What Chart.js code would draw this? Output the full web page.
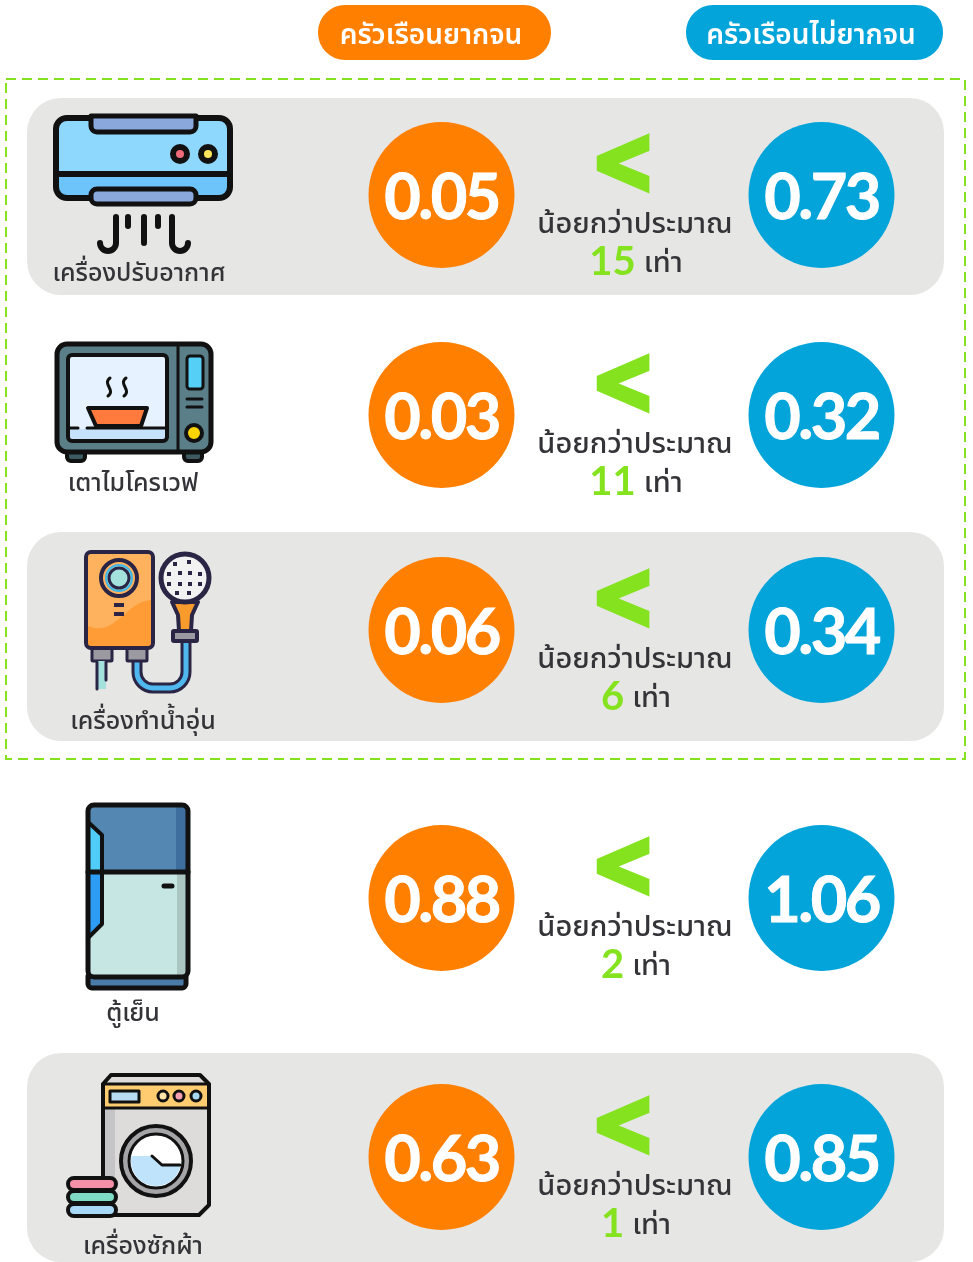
<!DOCTYPE html>
<html lang="th">
<head>
<meta charset="utf-8">
<title>เครื่องใช้ไฟฟ้า</title>
<script src="https://cdn.jsdelivr.net/npm/chart.js@4"></script>
<style>
  html, body { margin: 0; padding: 0; background: #fff; }
  canvas { display: block; }
</style>
</head>
<body>
<canvas id="chart" width="973" height="1262"></canvas>
<script>
// ข้อมูล
const categories = ['เครื่องปรับอากาศ', 'เตาไมโครเวฟ', 'เครื่องทำน้ำอุ่น', 'ตู้เย็น', 'เครื่องซักผ้า'];
const poorValues = [0.05, 0.03, 0.06, 0.88, 0.63];
const nonPoorValues = [0.73, 0.32, 0.34, 1.06, 0.85];
const timesLess = ['15', '11', '6', '2', '1'];
const seriesNames = ['ครัวเรือนยากจน', 'ครัวเรือนไม่ยากจน'];

// layout (px on the page)
const rowY = [195, 415, 630, 898, 1157];
const labelX = [139, 133, 143, 133, 143];
const labelY = [276, 486, 724, 1016, 1249];
const poorX = 441.5;
const nonPoorX = 821.5;

const ORANGE = '#ff7f00';
const BLUE = '#03a4da';
const GREEN = '#84e31e';
const DARK = '#333338';
const PANEL = '#e6e6e4';
const FONT = '"Noto Sans Thai", "Noto Sans", Lato, sans-serif';

function box(c, x, y, w, h, r, fill, stroke, lw) {
  c.beginPath();
  c.roundRect(x, y, w, h, r);
  if (fill) { c.fillStyle = fill; c.fill(); }
  if (stroke) { c.strokeStyle = stroke; c.lineWidth = lw; c.stroke(); }
}

function poly(c, pts, fill, stroke, lw) {
  c.beginPath();
  pts.forEach((p, i) => i ? c.lineTo(p[0], p[1]) : c.moveTo(p[0], p[1]));
  c.closePath();
  if (fill) { c.fillStyle = fill; c.fill(); }
  if (stroke) { c.strokeStyle = stroke; c.lineWidth = lw; c.lineJoin = 'round'; c.stroke(); }
}

function dot(c, x, y, r, fill, stroke, lw) {
  c.beginPath();
  c.arc(x, y, r, 0, Math.PI * 2);
  if (fill) { c.fillStyle = fill; c.fill(); }
  if (stroke) { c.strokeStyle = stroke; c.lineWidth = lw; c.stroke(); }
}

function line(c, pts, stroke, lw) {
  c.beginPath();
  pts.forEach((p, i) => i ? c.lineTo(p[0], p[1]) : c.moveTo(p[0], p[1]));
  c.strokeStyle = stroke;
  c.lineWidth = lw;
  c.lineCap = 'round';
  c.lineJoin = 'round';
  c.stroke();
}

// ไอคอน
function drawAir(c) {
  const k = '#111';
  box(c, 56, 118, 174, 80, 11, '#8fd8fd');
  c.save();
  c.beginPath(); c.rect(56, 173, 174, 25); c.clip();
  box(c, 56, 118, 174, 80, 11, '#6cc4fa');
  c.restore();
  box(c, 56, 118, 174, 80, 11, null, k, 6);
  line(c, [[56, 174], [230, 174]], k, 6);
  box(c, 91, 116, 105, 16, [0, 0, 6, 6], '#8aa8dc', k, 5);
  box(c, 91, 189, 105, 15, 6, '#8aa8dc', k, 5);
  dot(c, 180, 154, 10, k); dot(c, 180, 154, 4, '#ef6a7a');
  dot(c, 208, 154, 10, k); dot(c, 208, 154, 4, '#ffe45c');
  c.lineCap = 'round';
  c.strokeStyle = k; c.lineWidth = 6;
  c.beginPath(); c.moveTo(116, 217); c.lineTo(116, 243); c.arc(108, 243, 8, 0, Math.PI); c.stroke();
  c.beginPath(); c.moveTo(172, 217); c.lineTo(172, 243); c.arc(180, 243, 8, Math.PI, 0, true); c.stroke();
  line(c, [[128, 217], [128, 226]], k, 6);
  line(c, [[144, 217], [144, 243]], k, 6);
  line(c, [[158, 217], [158, 226]], k, 6);
}

function drawMicrowave(c) {
  const k = '#111';
  box(c, 67, 450, 18, 11, 4, '#3c5a60', k, 4);
  box(c, 184, 450, 18, 11, 4, '#3c5a60', k, 4);
  box(c, 57, 344, 154, 108, 10, '#5a7f88', k, 5);
  line(c, [[178, 344], [178, 452]], k, 3);
  box(c, 68, 355, 99, 86, 4, '#e6f2ff');
  box(c, 68, 429, 99, 12, 2, '#c5e1fb');
  box(c, 68, 355, 99, 86, 4, null, k, 4);
  line(c, [[70, 428], [78, 428]], k, 3);
  line(c, [[87, 428], [165, 428]], k, 3);
  poly(c, [[88, 408], [147, 408], [141, 426], [96, 426]], '#ff7a3c', k, 4);
  [108, 124].forEach(x => {
    c.beginPath();
    c.moveTo(x + 2, 378);
    c.bezierCurveTo(x - 6, 384, x + 8, 390, x, 396);
    c.strokeStyle = k; c.lineWidth = 3; c.lineCap = 'round'; c.stroke();
  });
  box(c, 187, 356, 16, 33, 3, '#55cff6', k, 3);
  line(c, [[187, 399], [202, 399]], k, 3);
  line(c, [[187, 407], [202, 407]], k, 3);
  dot(c, 194, 433, 8, '#ffd500', k, 4);
}

function drawHeater(c) {
  const k = '#2a2545';
  // สายฝักบัว
  const hose = () => {
    c.beginPath();
    c.moveTo(186, 640); c.lineTo(186, 672);
    c.arc(170, 672, 16, 0, Math.PI / 2);
    c.lineTo(153, 688);
    c.arc(153, 672, 16, Math.PI / 2, Math.PI);
    c.lineTo(137, 655);
    c.stroke();
  };
  c.lineCap = 'butt';
  c.strokeStyle = k; c.lineWidth = 11; hose();
  c.strokeStyle = '#4fb8ee'; c.lineWidth = 5; hose();
  box(c, 92, 648, 20, 13, 1, '#9a9aa0', k, 3);
  box(c, 127, 648, 20, 13, 1, '#9a9aa0', k, 3);
  box(c, 97, 661, 9, 28, 0, '#a4e0dc');
  line(c, [[97, 662], [97, 689]], k, 3);
  line(c, [[106, 662], [106, 680]], k, 3);
  box(c, 86, 552, 67, 96, 5, '#ffb25e');
  c.save();
  c.beginPath(); c.roundRect(86, 552, 67, 96, 5); c.clip();
  c.beginPath(); c.moveTo(86, 625);
  c.bezierCurveTo(115, 640, 125, 600, 153, 600);
  c.lineTo(153, 648); c.lineTo(86, 648); c.closePath();
  c.fillStyle = '#ff9c36'; c.fill();
  c.restore();
  box(c, 86, 552, 67, 96, 5, null, k, 4);
  dot(c, 119, 578, 18, '#ffb25e', k, 4);
  dot(c, 119, 578, 13, '#a4e0dc', '#3fb8e8', 2);
  dot(c, 119, 578, 10, null, k, 3);
  box(c, 114, 603, 10, 4, 0, k);
  box(c, 114, 612, 10, 4, 0, k);
  poly(c, [[172, 602], [198, 602], [192, 615], [191, 631], [179, 631], [178, 615]], '#f99a2c', k, 4);
  box(c, 173, 631, 24, 10, 1, '#9a9aa0', k, 4);
  dot(c, 185, 578, 24, '#f2f2f2', k, 5);
  const dots = [[-10, -14], [4, -16], [-16, -4], [-5, -5], [5, -5], [15, -4], [-16, 6], [-5, 6], [5, 6], [15, 6], [-8, 15], [4, 15]];
  dots.forEach(d => box(c, 185 + d[0] - 2, 578 + d[1] - 2, 4, 4, 0, k));
}

function drawFridge(c) {
  const k = '#111';
  box(c, 88, 976, 98, 12, [0, 0, 4, 4], '#4a7ba8', k, 5);
  box(c, 88, 805, 100, 67, [6, 6, 0, 0], '#5488b2');
  box(c, 176, 805, 12, 67, [0, 6, 0, 0], '#3e6e9e');
  box(c, 88, 872, 100, 105, [0, 0, 6, 6], '#c5e6e3');
  box(c, 177, 872, 11, 105, [0, 0, 6, 0], '#abc5c2');
  poly(c, [[88, 822], [102, 835], [102, 872], [88, 872]], '#4fcdf8');
  poly(c, [[88, 872], [102, 872], [102, 924], [88, 938]], '#2c9cf5');
  line(c, [[88, 822], [102, 835], [102, 924], [88, 938]], k, 4);
  line(c, [[88, 872], [188, 872]], k, 5);
  box(c, 88, 805, 100, 172, 6, null, k, 5);
  line(c, [[164, 886], [172, 886]], k, 5);
}

function drawWasher(c) {
  const k = '#111';
  poly(c, [[111, 1075], [200, 1075], [209, 1084], [209, 1205], [199, 1215], [103, 1215], [103, 1084]], '#dddcdb');
  box(c, 103, 1084, 106, 24, 0, '#ffcc70');
  box(c, 103, 1108, 12, 105, 0, '#c5c5c8');
  poly(c, [[111, 1075], [200, 1075], [209, 1084], [209, 1205], [199, 1215], [103, 1215], [103, 1084]], null, k, 4);
  line(c, [[103, 1084], [209, 1084]], k, 3);
  line(c, [[103, 1108], [209, 1108]], k, 3);
  box(c, 110, 1091, 29, 11, 0, '#b8ddf3', k, 3);
  dot(c, 163, 1096, 5, '#ffe6a8', k, 3);
  dot(c, 179, 1096, 5, '#f59fb0', k, 3);
  dot(c, 196, 1096, 5, '#a6d8f0', k, 3);
  dot(c, 156, 1161, 35, '#a5a5a8', k, 4);
  dot(c, 156, 1161, 27, '#fff', k, 3);
  c.save();
  c.beginPath(); c.arc(156, 1161, 25, 0, Math.PI * 2); c.clip();
  poly(c, [[125, 1156], [152, 1156], [162, 1165], [185, 1165], [185, 1190], [125, 1190]], '#bfe3fa');
  c.restore();
  line(c, [[152, 1156], [162, 1165], [180, 1165]], k, 3);
  box(c, 68, 1178, 48, 12, 6, '#f48fa8', k, 4);
  box(c, 68, 1191, 48, 12, 6, '#7fdcc4', k, 4);
  box(c, 68, 1204, 48, 12, 6, '#a7d8f5', k, 4);
}

const icons = [drawAir, drawMicrowave, drawHeater, drawFridge, drawWasher];

// พื้นหลัง ป้ายหัวตาราง และไอคอน
const backdrop = {
  id: 'backdrop',
  beforeDatasetsDraw(chart) {
    const c = chart.ctx;
    c.save();
    box(c, 27, 98, 917, 197, 34, PANEL);
    box(c, 27, 532, 917, 209, 34, PANEL);
    box(c, 27, 1053, 917, 209, 34, PANEL);

    c.setLineDash([10, 6]);
    c.strokeStyle = GREEN;
    c.lineWidth = 2;
    c.strokeRect(6, 79, 959, 680);
    c.setLineDash([]);

    box(c, 318, 5, 233, 55, 27, ORANGE);
    box(c, 686, 5, 257, 55, 27, BLUE);
    c.font = '600 28px ' + FONT;
    c.fillStyle = '#fff';
    c.textAlign = 'center';
    c.textBaseline = 'middle';
    c.fillText(seriesNames[0], 431, 38);
    c.fillText(seriesNames[1], 811, 38);

    icons.forEach(f => f(c));
    c.restore();
  }
};

// ตัวเลขในวงกลมและข้อความเปรียบเทียบ
const rowText = {
  id: 'rowText',
  afterDatasetsDraw(chart) {
    const c = chart.ctx;
    c.save();
    c.textBaseline = 'middle';
    c.textAlign = 'center';

    chart.data.datasets.forEach((ds, d) => {
      chart.getDatasetMeta(d).data.forEach((pt, i) => {
        c.font = '700 63px Lato, ' + FONT;
        c.letterSpacing = '-2.5px';
        c.fillStyle = '#fff';
        c.strokeStyle = '#fff';
        c.lineWidth = 1;
        c.fillText(ds.data[i].v.toFixed(2), pt.x, pt.y + 4);
        c.strokeText(ds.data[i].v.toFixed(2), pt.x, pt.y + 4);
      });
    });
    c.letterSpacing = '0px';

    categories.forEach((name, i) => {
      const y = chart.scales.y.getPixelForValue(rowY[i]);
      c.fillStyle = GREEN;
      c.strokeStyle = GREEN;
      c.save();
      c.translate(623, y - 27);
      c.scale(1, 1.2);
      c.font = '700 76px "DejaVu Sans"';
      c.lineWidth = 5;
      c.lineJoin = 'miter';
      c.fillText('<', 0, 0);
      c.strokeText('<', 0, 0);
      c.restore();

      c.fillStyle = DARK;
      c.font = '500 29px ' + FONT;
      c.fillText('น้อยกว่าประมาณ', 635, y + 32);

      c.font = '700 40px Lato, ' + FONT;
      const numW = c.measureText(timesLess[i]).width;
      c.font = '500 29px ' + FONT;
      const unit = 'เท่า';
      const unitW = c.measureText(unit).width;
      const left = 636 - (numW + 8 + unitW) / 2;
      c.textAlign = 'left';
      c.fillText(unit, left + numW + 8, y + 71);
      c.font = '700 40px Lato, ' + FONT;
      c.fillStyle = GREEN;
      c.fillText(timesLess[i], left, y + 67);
      c.textAlign = 'center';

      c.fillStyle = DARK;
      c.font = '500 25px ' + FONT;
      c.fillText(name, labelX[i], labelY[i]);
    });
    c.restore();
  }
};

function toPoints(values, x) {
  return values.map((v, i) => ({ x: x, y: rowY[i], v: v }));
}

new Chart(document.getElementById('chart'), {
  type: 'scatter',
  data: {
    datasets: [
      { label: seriesNames[0], data: toPoints(poorValues, poorX), backgroundColor: ORANGE, pointRadius: 73, pointHoverRadius: 73, borderWidth: 0 },
      { label: seriesNames[1], data: toPoints(nonPoorValues, nonPoorX), backgroundColor: BLUE, pointRadius: 73, pointHoverRadius: 73, borderWidth: 0 }
    ]
  },
  options: {
    responsive: false,
    animation: false,
    layout: { padding: 0, autoPadding: false },
    plugins: { legend: { display: false }, tooltip: { enabled: false }, title: { display: false } },
    scales: {
      x: { type: 'linear', min: 0, max: 973, display: false },
      y: { type: 'linear', min: 0, max: 1262, reverse: true, display: false }
    }
  },
  plugins: [backdrop, rowText]
});
</script>
</body>
</html>
